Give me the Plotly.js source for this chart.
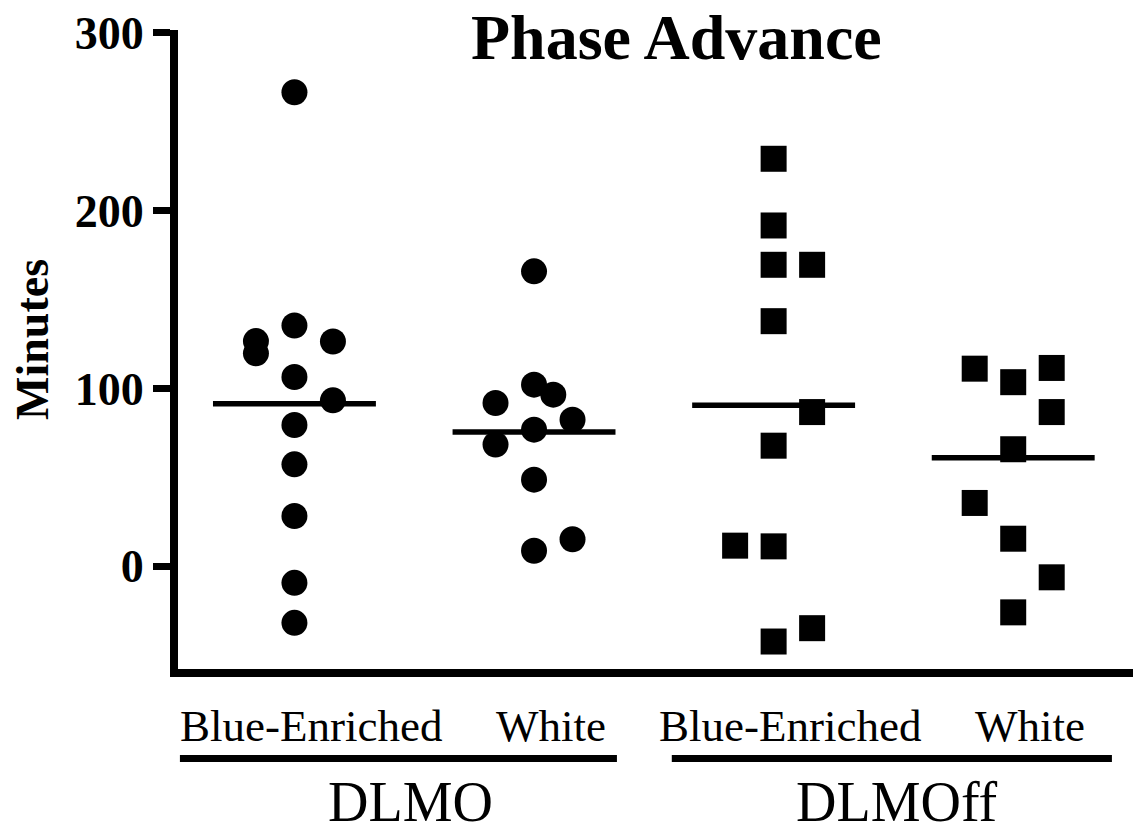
<!DOCTYPE html>
<html>
<head>
<meta charset="utf-8">
<script src="https://cdn.plot.ly/plotly-3.0.1.min.js"></script>
<style>html,body{margin:0;padding:0;background:#fff;}#chart{width:1139px;height:837px;}</style>
</head>
<body>
<div id="chart"></div>
<script>
// ---- data ----
const groupLabels = ["DLMO", "DLMOff"];
const conditionLabels = ["Blue-Enriched", "White", "Blue-Enriched", "White"];
const yTickValues = [0, 100, 200, 300];

const dlmoBlue  = [266.5, 135.4, 126.6, 119.7, 126.4, 106.4, 93.3, 79.4, 57.3, 28.3, -9.3, -31.8];
const dlmoWhite = [165.8, 102.1, 96.5, 91.8, 82.4, 76.8, 68.5, 48.7, 15.2, 8.7];
const dlmoffBlue  = [229.1, 191.6, 169.5, 169.5, 137.8, 86.7, 67.8, 11.6, 11.2, -34.8, -42.3];
const dlmoffWhite = [111.1, 103.5, 111.5, 86.7, 65.8, 35.6, 15.5, -6.2, -25.9];
const centralLines = [91.4, 75.5, 90.6, 61.0];

// scatter column of each point (side-by-side placement of overlapping points)
const dlmoBlueCol  = [0, 0, -1, -1, 1, 0, 1, 0, 0, 0, 0, 0];
const dlmoWhiteCol = [0, 0, 0.5, -1, 1, 0, -1, 0, 1, 0];
const dlmoffBlueCol  = [0, 0, 0, 1, 0, 1, 0, -1, 0, 1, 0];
const dlmoffWhiteCol = [-1, 0, 1, 1, 0, -1, 0, 1, 0];

// ---- drawing ----
const colStep = 0.1607;
const halfLine = 0.34;
const series = [
  {v: dlmoBlue,    c: dlmoBlueCol,    sym: "circle"},
  {v: dlmoWhite,   c: dlmoWhiteCol,   sym: "circle"},
  {v: dlmoffBlue,  c: dlmoffBlueCol,  sym: "square"},
  {v: dlmoffWhite, c: dlmoffWhiteCol, sym: "square"}
];
const traces = [];
series.forEach((s, i) => {
  traces.push({
    type: "scatter", mode: "markers",
    x: s.c.map(c => i + c * colStep), y: s.v,
    marker: {symbol: s.sym, size: 26, color: "#000", line: {width: 0}},
    cliponaxis: false, hoverinfo: "y", showlegend: false
  });
  traces.push({
    type: "scatter", mode: "lines",
    x: [i - halfLine, i + halfLine], y: [centralLines[i], centralLines[i]],
    line: {color: "#000", width: 5.5}, hoverinfo: "skip", showlegend: false
  });
});

const serif = "Liberation Serif, Times New Roman, serif";
const annotations = [];
conditionLabels.forEach((t, i) => {
  annotations.push({
    text: t, x: i + 0.07, xref: "x", y: -0.0891, yref: "paper",
    xanchor: "center", yanchor: "middle", showarrow: false,
    font: {family: serif, size: 45, color: "#000"}
  });
});
groupLabels.forEach((t, g) => {
  annotations.push({
    text: t, x: 0.486 + 2.028 * g, xref: "x", y: -0.208, yref: "paper",
    xanchor: "center", yanchor: "middle", showarrow: false,
    font: {family: serif, size: 56, color: "#000"}
  });
});
annotations.push({
  text: "Phase Advance", x: 0.5225, xref: "paper", y: 0.9875, yref: "paper",
  xanchor: "center", yanchor: "middle", showarrow: false,
  font: {family: serif, size: 64, color: "#000", weight: "bold"}
});
annotations.push({
  text: "Minutes", x: -0.1518, xref: "paper", y: 0.515, yref: "paper",
  xanchor: "center", yanchor: "middle", showarrow: false, textangle: -90,
  font: {family: serif, size: 46, color: "#000", weight: "bold"}
});

const shapes = [
  {type: "line", xref: "x", yref: "paper", x0: -0.478, x1: 1.346, y0: -0.14, y1: -0.14,
   line: {color: "#000", width: 7}},
  {type: "line", xref: "x", yref: "paper", x0: 1.575, x1: 3.412, y0: -0.14, y1: -0.14,
   line: {color: "#000", width: 7}}
];

const layout = {
  width: 1139, height: 837,
  margin: {l: 178, r: 6, t: 30, b: 167.5, pad: 0},
  paper_bgcolor: "#fff", plot_bgcolor: "#fff",
  showlegend: false,
  xaxis: {
    range: [-0.486, 3.5], showgrid: false, zeroline: false,
    showline: true, linewidth: 8, linecolor: "#000",
    ticks: "", showticklabels: false, fixedrange: true
  },
  yaxis: {
    range: [-57.75, 301.5], showgrid: false, zeroline: false,
    showline: true, linewidth: 8, linecolor: "#000",
    ticks: "outside", ticklen: 17, tickwidth: 7, tickcolor: "#000",
    tickvals: yTickValues, ticktext: yTickValues.map(String),
    tickfont: {family: serif, size: 46, color: "#000", weight: "bold"},
    fixedrange: true
  },
  annotations: annotations,
  shapes: shapes
};

Plotly.newPlot("chart", traces, layout, {displayModeBar: false, staticPlot: true});
</script>
</body>
</html>
